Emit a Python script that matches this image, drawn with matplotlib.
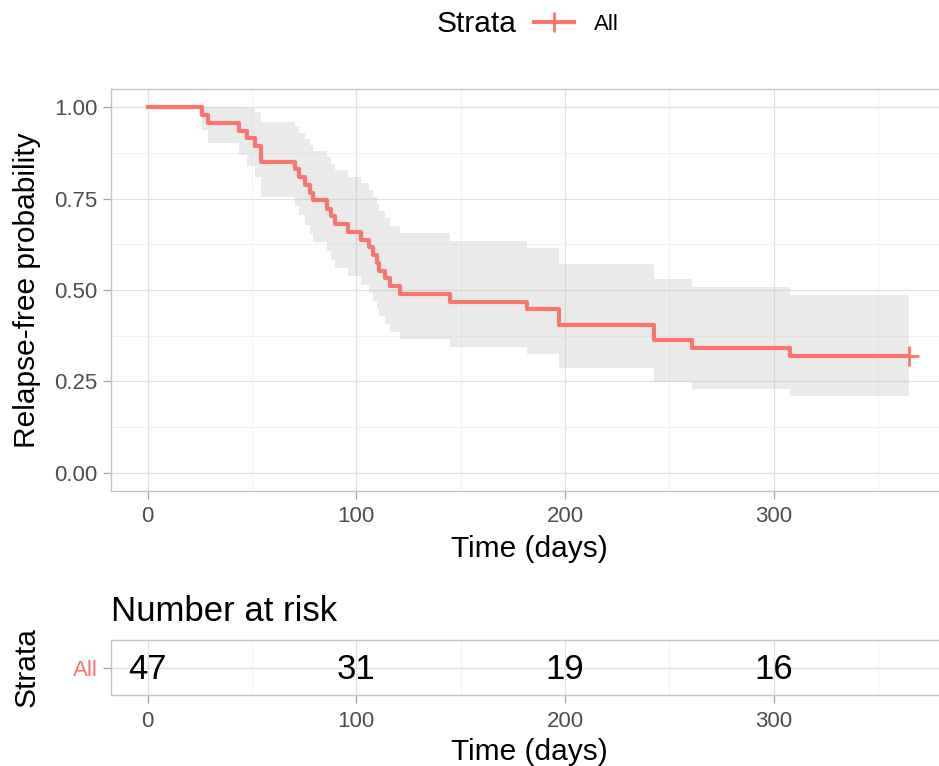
import matplotlib
matplotlib.use("Agg")
import matplotlib.pyplot as plt
from matplotlib.lines import Line2D

plt.rcParams['font.family'] = ['Liberation Sans', 'DejaVu Sans']

# Kaplan-Meier estimate (days, survival, 95% band)
days = [0, 26, 29, 44, 47.5, 51.5, 54.5, 70.5, 72.5, 75.5, 78, 79.5, 86, 88, 90,
        96, 102.5, 106, 108, 110, 111, 114, 116, 121, 145, 182, 197, 242.5, 261, 308, 365]
surv = [1, .979, .957, .936, .915, .894, .851, .830, .809, .787, .766, .745, .723, .702, .681,
        .660, .638, .617, .596, .574, .553, .532, .511, .489, .468, .447, .404, .362, .340, .319, .319]
upper = [1, 1, 1, 1, .998, .986, .959, .945, .929, .913, .897, .880, .863, .846, .828,
         .810, .792, .773, .754, .735, .715, .696, .676, .655, .635, .614, .572, .529, .507, .485, .485]
lower = [1, .938, .901, .869, .839, .810, .755, .729, .704, .679, .654, .630, .606, .583, .560,
         .537, .515, .493, .471, .449, .428, .407, .386, .366, .345, .325, .286, .247, .229, .210, .210]
censor_day = [365]
censor_surv = [0.319]

risk_times = [0, 100, 200, 300]
risk_counts = [47, 31, 19, 16]
strata = ['All']

red = '#F8766D'
grey_txt = '#4D4D4D'
border = '#C4C4C4'
tickc = '#A6A6A6'
major = '#E0E0E0'
minor = '#F0F0F0'
xlim = (-17.5, 383.5)

W, H = 939, 766
LEFT, RIGHT = 111, 948   # panel edges in pixels (right edge runs past the image)
fig = plt.figure(figsize=(W / 100, H / 100), dpi=100)


def style(ax):
    for s in ax.spines.values():
        s.set_color(border)
        s.set_linewidth(1.0)
    ax.tick_params(which='major', length=5.5, width=0.9, color=tickc,
                   labelcolor=grey_txt, labelsize=16)
    ax.tick_params(which='minor', length=0)
    ax.grid(which='major', color=major, lw=0.9)
    ax.grid(which='minor', color=minor, lw=0.6)
    ax.set_axisbelow(True)
    ax.set_xlim(*xlim)
    ax.set_xticks([0, 100, 200, 300])
    ax.set_xticks([50, 150, 250, 350], minor=True)


def ylabel_at(ax, px):
    # px = right edge (text bottom) of the rotated y title, in pixels
    ax.yaxis.set_label_coords((px - LEFT) / (RIGHT - LEFT), 0.5)


# --- survival curve ---
ax = fig.add_axes([LEFT / W, 1 - 491 / H, (RIGHT - LEFT) / W, (491 - 89) / H])
style(ax)
ax.fill_between(days, lower, upper, step='post', color='#BEBEBE', alpha=0.32, lw=0)
ax.step(days, surv, where='post', color=red, lw=3.0)
ax.plot(censor_day, censor_surv, marker='+', color=red, ms=14, mew=2.0, ls='none')
ax.set_ylim(-0.05, 1.05)
ax.set_yticks([0, 0.25, 0.5, 0.75, 1.0])
ax.set_yticklabels(['0.00', '0.25', '0.50', '0.75', '1.00'])
ax.set_yticks([0.125, 0.375, 0.625, 0.875], minor=True)
ax.tick_params(axis='x', pad=5)
ax.tick_params(axis='y', pad=4)
ax.set_xlabel('Time (days)', fontsize=21.5, labelpad=6)
ax.set_ylabel('Relapse-free probability', fontsize=21.5)
ylabel_at(ax, 41)

# legend on top
fig.text(477 / W, 1 - 24 / H, 'Strata', fontsize=21.5, ha='center', va='center')
handle = Line2D([], [], color=red, lw=3.0, marker='+', ms=14, mew=2.0)
fig.legend(handles=[handle], labels=strata, loc='center left', frameon=False,
           bbox_to_anchor=(534 / W, 1 - 24 / H), fontsize=16, handlelength=1.8,
           handletextpad=0.9, borderaxespad=0, borderpad=0)

# --- risk table ---
rt = fig.add_axes([LEFT / W, 1 - 695 / H, (RIGHT - LEFT) / W, 55 / H])
style(rt)
for t, n in zip(risk_times, risk_counts):
    rt.text(t, -0.05, str(n), ha='center', va='center', fontsize=25)
rt.set_ylim(-0.6, 0.6)
rt.set_yticks([0])
rt.set_yticklabels(strata)
rt.get_yticklabels()[0].set_color(red)
rt.tick_params(axis='x', pad=6)
rt.tick_params(axis='y', pad=4)
rt.set_xlabel('Time (days)', fontsize=21.5, labelpad=4)
rt.set_ylabel('Strata', fontsize=21.5)
ylabel_at(rt, 41)
rt.set_title('Number at risk', fontsize=25, loc='left', pad=14)

fig.savefig('out.png', dpi=100)
